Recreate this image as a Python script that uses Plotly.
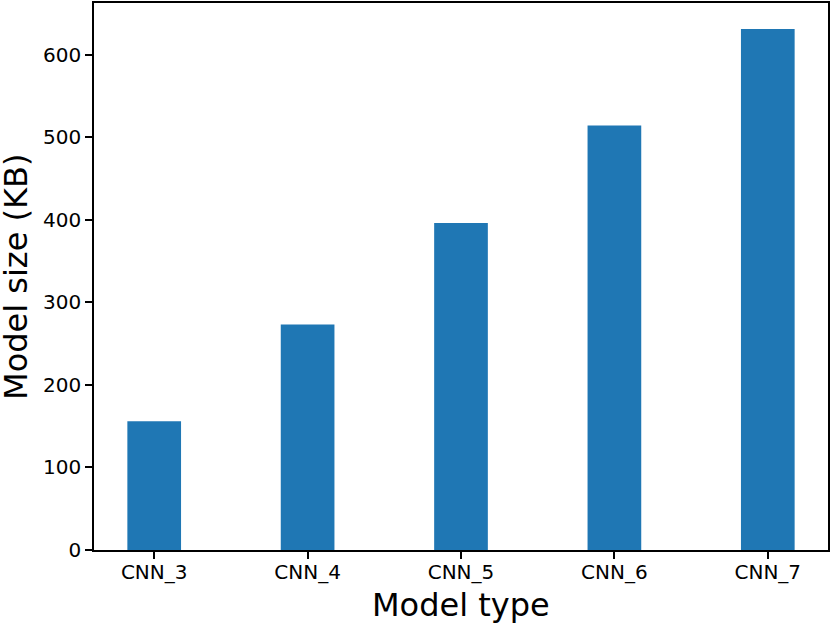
import plotly.graph_objects as go

models = ["CNN_3", "CNN_4", "CNN_5", "CNN_6", "CNN_7"]
sizes_kb = [156, 273, 396, 514, 631]
y_ticks = [0, 100, 200, 300, 400, 500, 600]

fig = go.Figure(
    go.Bar(
        x=models,
        y=sizes_kb,
        width=0.35,
        marker=dict(color="#1f77b4", line=dict(width=0)),
    )
)

axis_common = dict(
    showline=True,
    linecolor="black",
    linewidth=1.6,
    mirror=True,
    ticks="outside",
    ticklen=7,
    tickwidth=1.6,
    tickcolor="black",
    showgrid=False,
    zeroline=False,
    automargin=False,
    tickfont=dict(family="DejaVu Sans", size=20, color="black"),
)

fig.update_xaxes(**axis_common, range=[-0.3925, 4.3925], ticklabelstandoff=-4)
fig.update_yaxes(**axis_common, range=[0, 662.5], tickvals=y_ticks)

title_font = dict(family="DejaVu Sans", size=32, color="black")
fig.add_annotation(
    text="Model type", xref="paper", yref="paper", x=0.5, y=-0.101,
    xanchor="center", yanchor="middle", showarrow=False, font=title_font,
)
fig.add_annotation(
    text="Model size (KB)", xref="paper", yref="paper", x=-0.107, y=0.5,
    xanchor="center", yanchor="middle", textangle=-90, showarrow=False, font=title_font,
)

fig.update_layout(
    width=830,
    height=625,
    margin=dict(l=94, r=2, t=3, b=75),
    plot_bgcolor="white",
    paper_bgcolor="white",
    showlegend=False,
    font=dict(family="DejaVu Sans", color="black"),
)

# the browser's default body margin would shift the figure by 8px
fig.write_html(
    "out.html",
    config={"displayModeBar": False},
    post_script="document.body.style.margin = '0';",
)
